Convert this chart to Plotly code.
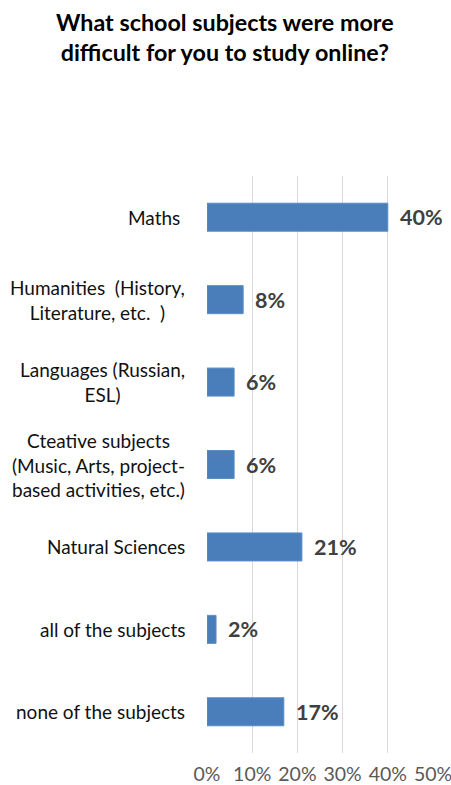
import plotly.graph_objects as go

# Survey results: share of students naming each subject as harder to study online
categories = [
    "Maths ",
    "Humanities  (History,<br>Literature, etc.  )",
    "Languages (Russian,<br>ESL)",
    "Cteative subjects<br>(Music, Arts, project-<br>based activities, etc.)",
    "Natural Sciences",
    "all of the subjects",
    "none of the subjects",
]
values = [40, 8, 6, 6, 21, 2, 17]
tick_vals = [0, 10, 20, 30, 40, 50]
tick_text = ["0%", "10%", "20%", "30%", "40%", "50%"]

FONT = "Lato, Carlito, Calibri, sans-serif"
BAR_COLOR = "#4a7ebb"
PLOT_TOP, PLOT_H = 176, 577

fig = go.Figure(
    go.Bar(
        x=values,
        y=categories,
        orientation="h",
        marker=dict(color=BAR_COLOR, line=dict(color="#5b8ec9", width=1)),
        width=0.34,
        hoverinfo="skip",
    )
)

annotations = []
# chart title, two centred lines above the plot
annotations.append(dict(
    x=0.5, y=1 + (PLOT_TOP - 6) / PLOT_H, xref="paper", yref="paper",
    text="<b>What school subjects were more<br>difficult for you to study online?</b>",
    showarrow=False, xanchor="center", yanchor="top", align="center",
    xshift=-95, font=dict(family=FONT, size=23.3, color="#000000"),
))
# value labels right of each bar
for cat, v in zip(categories, values):
    annotations.append(dict(
        x=v, y=cat, xref="x", yref="y", text=f"<b>{v}%</b>",
        showarrow=False, xanchor="left", yanchor="middle", xshift=10,
        font=dict(family=FONT, size=21.5, color="#404040"),
    ))
# category labels: right edge fixed, multi-line text centred in its block
for cat in categories:
    annotations.append(dict(
        x=0, y=cat, xref="paper", yref="y", text=cat,
        showarrow=False, xanchor="right", yanchor="middle", align="center",
        xshift=-20, font=dict(family=FONT, size=19, color="#111111"),
    ))

fig.update_layout(
    width=451,
    height=785,
    margin=dict(l=207, r=18, t=PLOT_TOP, b=785 - PLOT_TOP - PLOT_H),
    paper_bgcolor="white",
    plot_bgcolor="white",
    showlegend=False,
    annotations=annotations,
    xaxis=dict(
        range=[0, 50],
        tickvals=tick_vals,
        ticktext=tick_text,
        showgrid=True,
        gridcolor="#d9d9d9",
        gridwidth=1,
        zeroline=False,
        showline=False,
        ticks="",
        ticklabelstandoff=7,
        ticklabeloverflow="allow",
        automargin=False,
        tickfont=dict(family=FONT, size=19.5, color="#595959"),
        fixedrange=True,
    ),
    yaxis=dict(
        autorange="reversed",
        showticklabels=False,
        showgrid=False,
        zeroline=False,
        showline=False,
        ticks="",
        automargin=False,
        fixedrange=True,
    ),
)

fig.write_html("out.html", config={"displayModeBar": False})
